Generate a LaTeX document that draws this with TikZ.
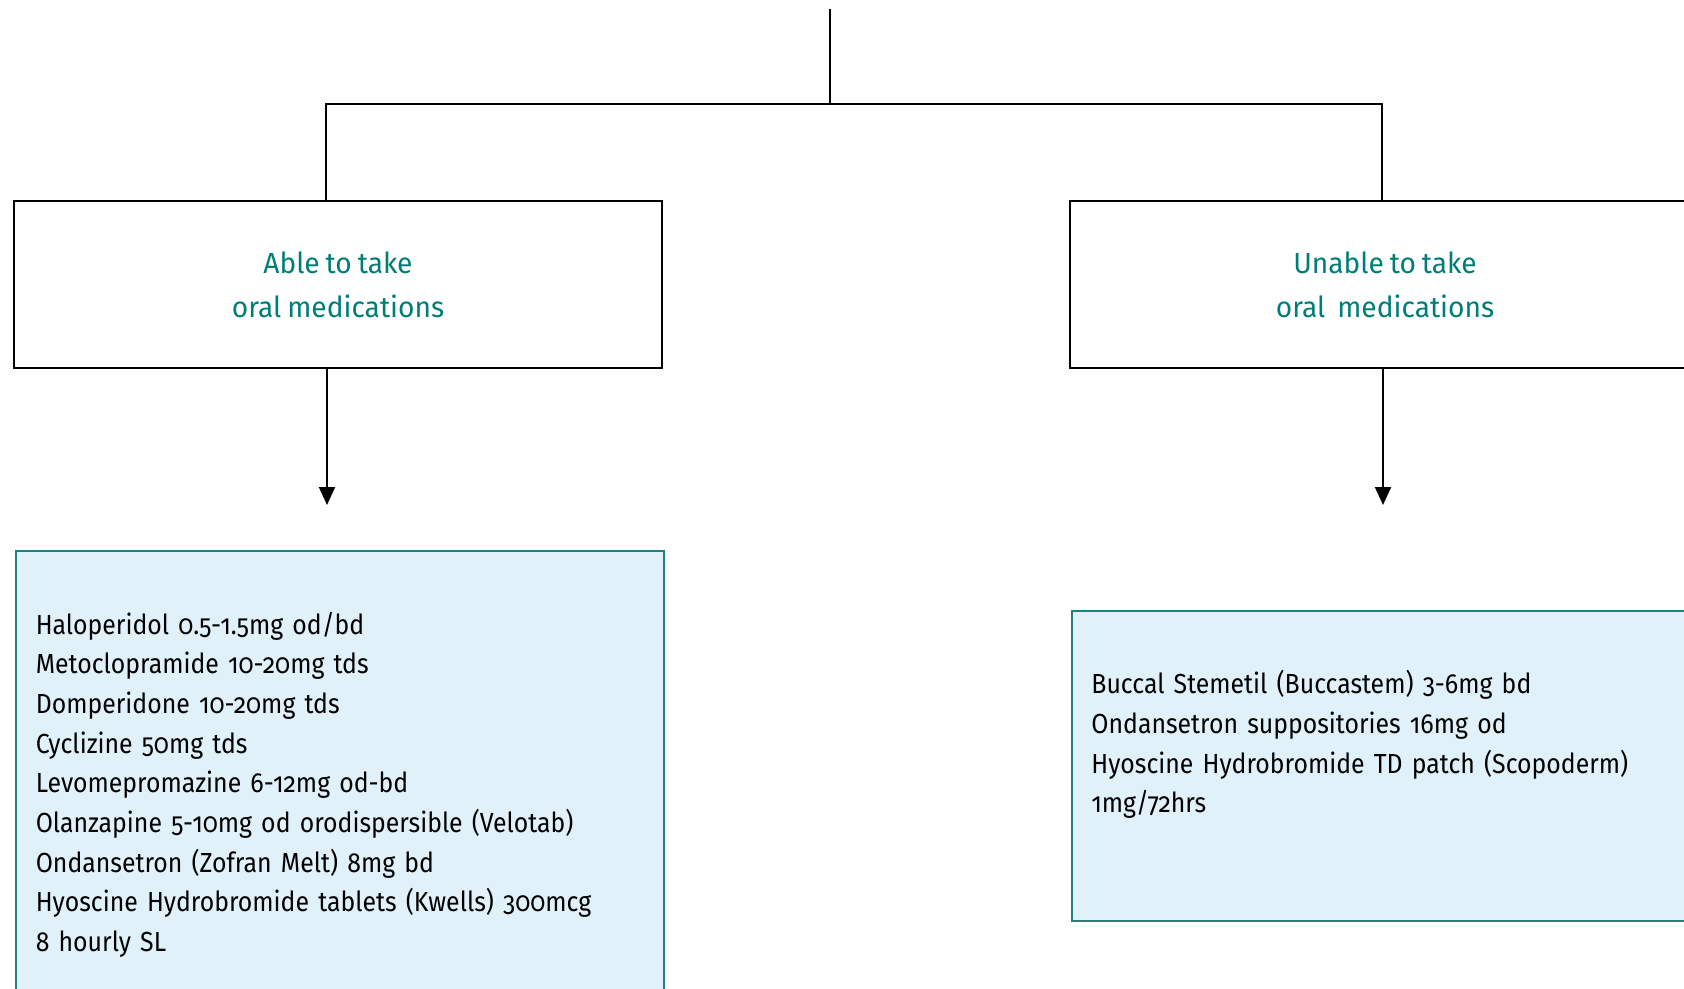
\documentclass[tikz,border=0pt]{standalone}
\usepackage{fontspec}
\setmainfont{Fira Sans}[Numbers=OldStyle,FakeStretch=0.9,WordSpace=0.6]
\newfontfamily\headfont{Fira Sans}[Numbers=OldStyle,FakeStretch=0.97,WordSpace=0.8]
\usetikzlibrary{positioning,arrows.meta}
\definecolor{headteal}{RGB}{0,126,117}
\definecolor{boxteal}{RGB}{32,130,122}
\definecolor{listblue}{RGB}{225,241,250}

\tikzset{
  route box/.style={draw=black,line width=1pt,minimum width=324pt,minimum height=83.8pt,
    text=headteal,align=center,font=\headfont\fontsize{14.5}{22}\selectfont},
  drug box/.style={draw=boxteal,line width=1pt,fill=listblue,minimum width=324pt,anchor=north west},
  drug list/.style={inner sep=0pt,text width=300pt,align=left,font=\fontsize{13.8}{19.85}\selectfont},
  wire/.style={line width=1pt},
  down arrow/.style={line width=1pt,-{Triangle[length=9pt,width=8pt]}}
}

\begin{document}
\begin{tikzpicture}[x=0.5pt,y=-0.5pt]
  \useasboundingbox (0,0) rectangle (1684,989);
  \clip (0,0) rectangle (1684,989);
  \coordinate (top) at (830,9);
  \coordinate (split) at (830,104);
  \coordinate (left fork) at (326,104);
  \coordinate (right fork) at (1382,104);
  \node[route box] (able) at (338,284.5) {Able to take\\oral medications};
  \node[route box,minimum width=315pt] (unable) at (1385,284.5) {Unable to take\\oral\ \ medications};
  \coordinate (able end) at (327,505);
  \coordinate (unable end) at (1383,505);
  \node[drug box,minimum height=250pt] (oral drugs) at (15,550) {};
  \node[drug box,minimum height=155pt] (other drugs) at (1071,610) {};
  \node[drug list,below right=30.7pt and 10.2pt of oral drugs.north west] (oral list)
    {Haloperidol 0.5-1.5mg od/bd\\
     Metoclopramide 10-20mg tds\\
     Domperidone 10-20mg tds\\
     Cyclizine 50mg tds\\
     Levomepromazine 6-12mg od-bd\\
     Olanzapine 5-10mg od orodispersible (Velotab)\\
     Ondansetron (Zofran Melt) 8mg bd\\
     Hyoscine Hydrobromide tablets (Kwells) 300mcg\\
     8 hourly SL};
  \node[drug list,below right=30pt and 10pt of other drugs.north west] (other list)
    {Buccal Stemetil (Buccastem) 3-6mg bd\\
     Ondansetron suppositories 16mg od\\
     Hyoscine Hydrobromide TD patch (Scopoderm)\\
     1mg/72hrs};

  \draw[wire] (top) -- (split) -- (left fork) -- (left fork |- able.north);
  \draw[wire] (split) -- (right fork) -- (right fork |- unable.north);
  \draw[down arrow] (able end |- able.south) -- (able end);
  \draw[down arrow] (unable end |- unable.south) -- (unable end);
\end{tikzpicture}
\end{document}
